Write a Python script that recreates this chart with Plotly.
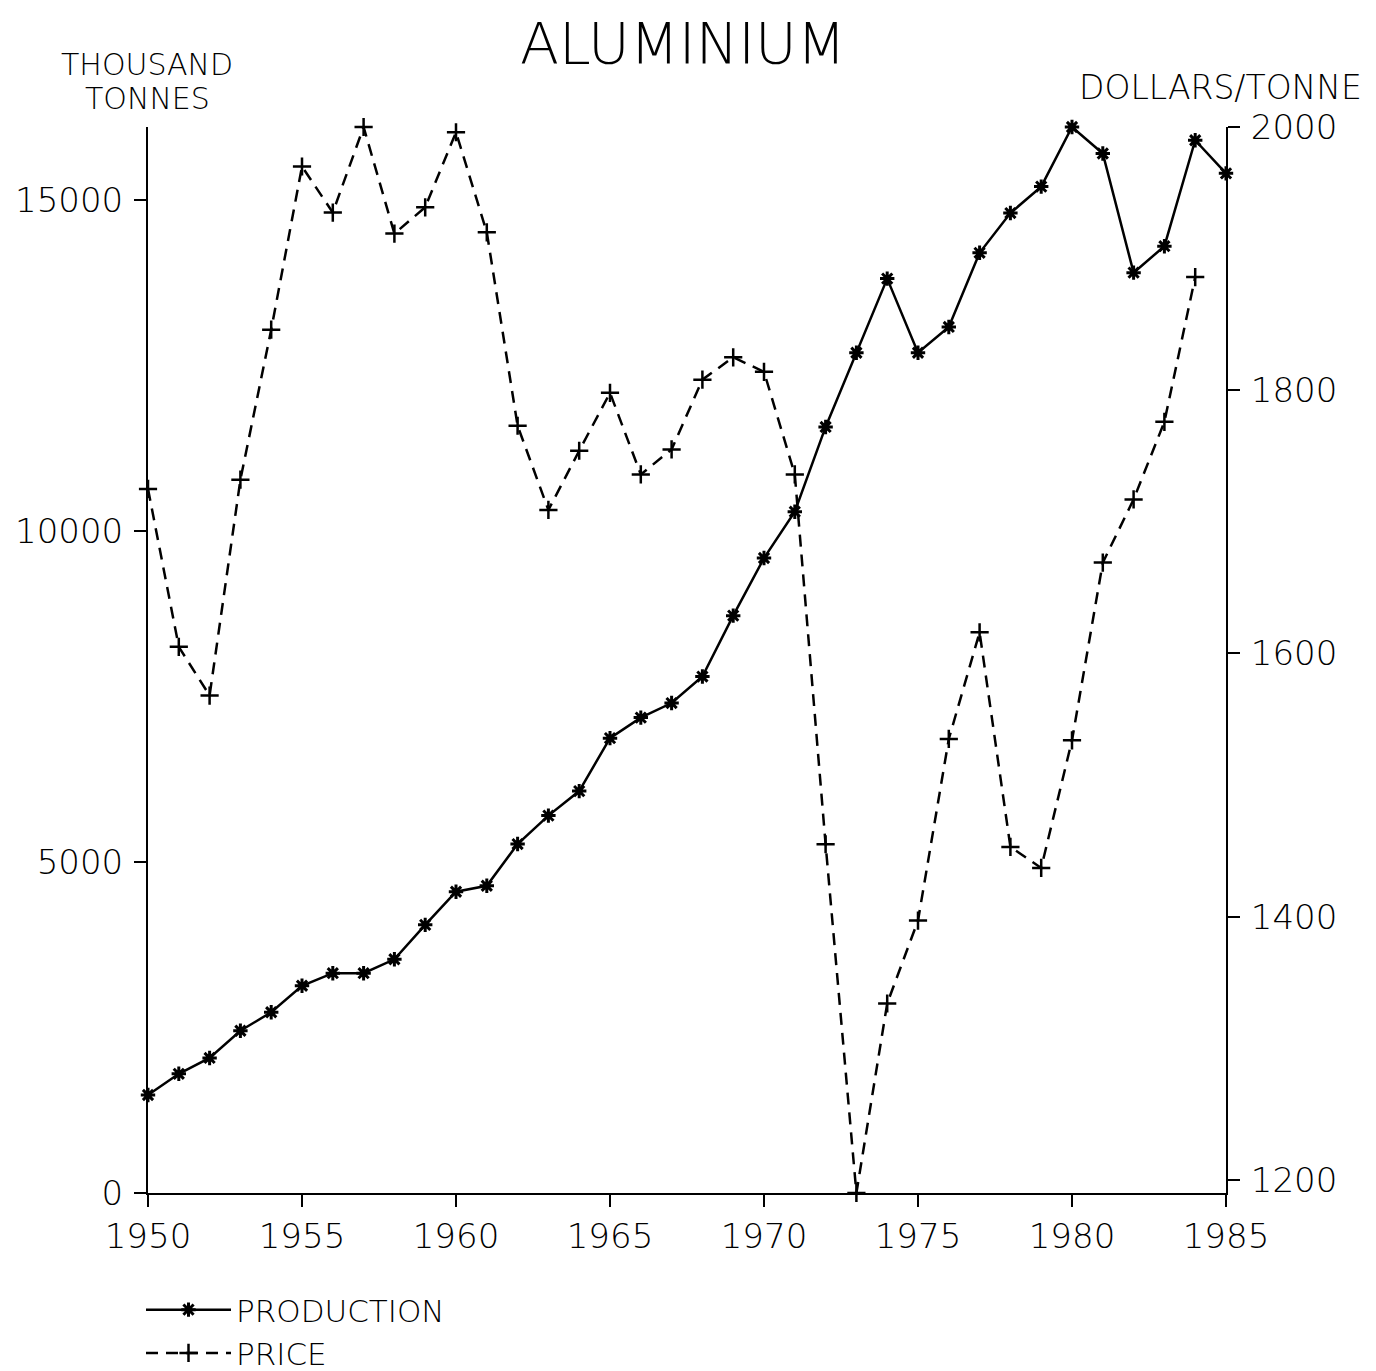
import plotly.graph_objects as go

years = list(range(1950, 1986))
production = [1480, 1800, 2040, 2450, 2730, 3130, 3320, 3320, 3530, 4050,
              4550, 4640, 5270, 5700, 6070, 6870, 7180, 7400, 7800, 8720,
              9590, 10290, 11570, 12690, 13810, 12690, 13080, 14200, 14800, 15200,
              16100, 15700, 13900, 14300, 15900, 15400]
price_years = list(range(1950, 1985))
price = [1725, 1605, 1568, 1732, 1846, 1970, 1935, 2000, 1919, 1939,
         1996, 1920, 1773, 1709, 1754, 1798, 1736, 1755, 1808, 1825,
         1814, 1736, 1455, 1190, 1334, 1397, 1535, 1616, 1453, 1437,
         1534, 1669, 1717, 1776, 1886]

FONT = "DejaVu Sans, sans-serif"
PAGE_OFFSET = 8  # the html body margin shifts everything by this much


def f(size):
    return dict(size=size, family=FONT, color="black", weight=200)


fig = go.Figure()
fig.add_trace(go.Scatter(
    x=years, y=production, name="PRODUCTION", mode="lines+markers",
    line=dict(color="black", width=2.5),
    marker=dict(symbol="asterisk-open", size=12, line=dict(color="black", width=3)),
    cliponaxis=False
))
fig.add_trace(go.Scatter(
    x=price_years, y=price, name="PRICE", mode="lines+markers", yaxis="y2",
    line=dict(color="black", width=2.5, dash="12px,8px"),
    marker=dict(symbol="cross-thin-open", size=13, line=dict(color="black", width=2.5)),
    cliponaxis=False
))

axis_style = dict(showline=True, linecolor="black", linewidth=2, showgrid=False,
                  zeroline=False, ticks="outside", ticklen=12, tickwidth=2,
                  tickcolor="black", tickfont=f(34), automargin=False,
                  tickformat="d")

# plot area in screen pixels: x 148..1226, y 127..1193
pw = 1226 - 148
ph = 1193 - 127

fig.update_layout(
    width=1376, height=1371,
    margin=dict(l=148 - PAGE_OFFSET, r=1376 - 1226 + PAGE_OFFSET,
                t=127 - PAGE_OFFSET, b=1371 - 1193 + PAGE_OFFSET, autoexpand=False),
    paper_bgcolor="white", plot_bgcolor="white",
    font=dict(family=FONT, color="black"),
    title=dict(text="ALUMINIUM", x=(683 - PAGE_OFFSET) / 1376, xanchor="center",
               y=1 - (44 - PAGE_OFFSET) / 1371, yanchor="middle", font=f(57)),
    xaxis=dict(range=[1950, 1985], tickvals=[1950, 1955, 1960, 1965, 1970, 1975, 1980, 1985],
               **axis_style),
    yaxis=dict(range=[0, 16100], tickvals=[0, 5000, 10000, 15000], ticklabelstandoff=4,
               **axis_style),
    yaxis2=dict(range=[1190, 2000], tickvals=[1200, 1400, 1600, 1800, 2000],
                overlaying="y", side="right", ticklabelstandoff=4, **axis_style),
    showlegend=True,
    legend=dict(x=(141 - 148) / pw, xanchor="left",
                y=(1193 - 1283) / ph, yanchor="top",
                font=f(31), itemwidth=85, tracegroupgap=0, bgcolor="rgba(0,0,0,0)"),
    annotations=[
        dict(text="THOUSAND", x=147, y=65, font=f(30)),
        dict(text="TONNES", x=147, y=99, font=f(30)),
        dict(text="DOLLARS/TONNE", x=1220, y=87, font=f(33)),
    ],
)

# pixel positions -> paper coordinates
for a in fig.layout.annotations:
    a.x = (a.x - 148) / pw
    a.y = (1193 - a.y) / ph
    a.xref = "paper"
    a.yref = "paper"
    a.showarrow = False
    a.xanchor = "center"
    a.yanchor = "middle"

fig.write_html("out.html")
